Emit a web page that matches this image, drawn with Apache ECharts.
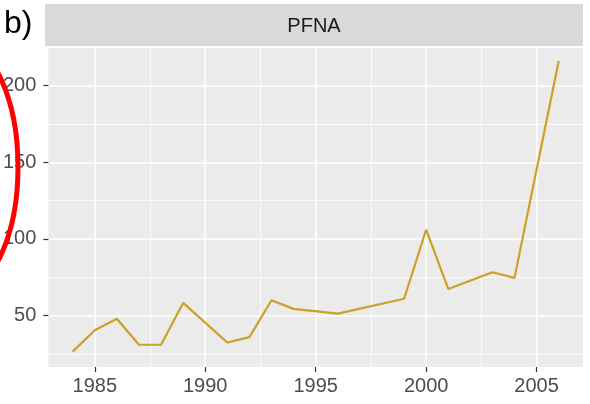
<!DOCTYPE html>
<html>
<head>
<meta charset="utf-8">
<script src="https://cdn.jsdelivr.net/npm/echarts@6.0.0/dist/echarts.min.js"></script>
<style>
  html, body { margin: 0; padding: 0; background: #fff; }
  #chart { width: 590px; height: 404px; }
</style>
</head>
<body>
<div id="chart"></div>
<script>
// PFNA yearly values
const years = [1984, 1985, 1986, 1987, 1988, 1989, 1991, 1992, 1993, 1994, 1996, 1999, 2000, 2001, 2003, 2004, 2006];
const values = [26.5, 40.5, 48, 31, 31, 58.3, 32.5, 36, 60, 54.4, 51.3, 61, 106, 67.4, 78.3, 74.6, 216];

const xMajor = [1985, 1990, 1995, 2000, 2005];
const xMinor = [1987.5, 1992.5, 1997.5, 2002.5];
const yMajor = [50, 100, 150, 200];
const yMinor = [25, 75, 125, 175];

const panelName = 'PFNA';
const figLabel = 'b)';

const chart = echarts.init(document.getElementById('chart'));

const gridBox = { left: 45, right: 7, top: 48, bottom: 37 };
const xRange = { min: 1982.9, max: 2007.1 };
const yRange = { min: 16.5, max: 224.5 };

const majorAxis = (vals, isX) => ({
  type: 'value',
  ...(isX ? xRange : yRange),
  axisLine: { show: false },
  axisTick: {
    show: true,
    customValues: vals,
    length: 5,
    lineStyle: { color: '#333333', width: 1.2 },
  },
  axisLabel: {
    customValues: vals,
    formatter: (v) => String(v),
    color: '#4D4D4D',
    fontSize: 20,
    fontFamily: 'Liberation Sans',
    margin: isX ? 9 : 12,
  },
  splitLine: {
    show: true,
    lineStyle: { color: '#ffffff', width: 1.6 },
  },
});

const minorAxis = (vals, isX) => ({
  type: 'value',
  ...(isX ? xRange : yRange),
  axisLine: { show: false },
  axisTick: { show: false, customValues: vals },
  axisLabel: { show: false, customValues: vals },
  splitLine: {
    show: true,
    lineStyle: { color: '#ffffff', width: 0.8 },
  },
});

const opt = {
  animation: false,
  backgroundColor: '#ffffff',
  grid: {
    ...gridBox,
    show: true,
    backgroundColor: '#EBEBEB',
    borderWidth: 0,
  },
  xAxis: [majorAxis(xMajor, true), minorAxis(xMinor, true)],
  yAxis: [majorAxis(yMajor, false), minorAxis(yMinor, false)],
  series: [
    {
      type: 'line',
      xAxisIndex: 0,
      yAxisIndex: 0,
      data: years.map((y, i) => [y, values[i]]),
      showSymbol: false,
      lineStyle: { color: '#C9A227', width: 2.2 },
      z: 5,
    },
  ],
  graphic: [
    // facet strip
    {
      type: 'rect',
      shape: { x: 45, y: 4, width: 538, height: 42 },
      style: { fill: '#D9D9D9' },
      z: 1,
    },
    {
      type: 'text',
      x: 314,
      y: 26,
      style: {
        text: panelName,
        fill: '#1A1A1A',
        fontSize: 20,
        fontFamily: 'Liberation Sans',
        align: 'center',
        verticalAlign: 'middle',
      },
      z: 2,
    },
    {
      type: 'text',
      x: 4,
      y: 24,
      style: {
        text: figLabel,
        fill: '#000000',
        fontSize: 32,
        fontFamily: 'Liberation Sans',
        align: 'left',
        verticalAlign: 'middle',
      },
      z: 2,
    },
    // red annotation circle on the left edge
    {
      type: 'ellipse',
      shape: { cx: -42, cy: 167, rx: 60, ry: 126 },
      style: { fill: 'none', stroke: '#FF0000', lineWidth: 5 },
      z: 100,
    },
  ],
};

chart.setOption(opt);
</script>
</body>
</html>
